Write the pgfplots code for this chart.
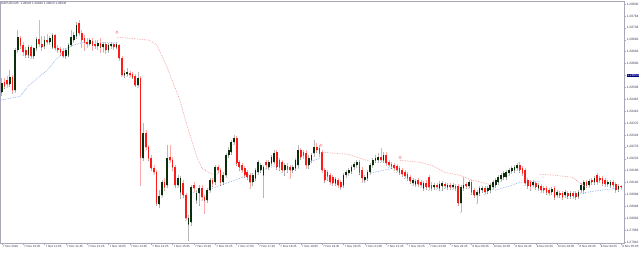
\documentclass[border=0pt]{standalone}
\usepackage{pgfplots}
\pgfplotsset{compat=1.18}
\usepackage{pgfplotstable}
\usepackage{fontspec}
\setmainfont{Liberation Sans}
\definecolor{upbody}{HTML}{0B2E0B}
\definecolor{dnbody}{HTML}{FF1A1A}
\definecolor{upwick}{HTML}{B8B8B8}
\definecolor{dnwick}{HTML}{FFA8A8}
\definecolor{bluema}{HTML}{8FB0F0}
\definecolor{pinkma}{HTML}{F49A9A}
\definecolor{axcol}{HTML}{A8A8B8}
\definecolor{lblcol}{HTML}{3A3A5A}
\definecolor{navyhl}{HTML}{000080}
\setlength{\fboxsep}{0.5pt}
\pgfplotsset{candle/.style={only marks, mark=*, mark size=0.01pt, mark options={draw=none, fill=none}}}

\pgfplotstableread{
x o h l c
0 1.28489 1.28543 1.28477 1.28524
3 1.28520 1.28574 1.28512 1.28547
5 1.28497 1.28659 1.28489 1.28652
6 1.28652 1.28729 1.28644 1.28702
10 1.28632 1.28671 1.28624 1.28663
12 1.28628 1.28663 1.28620 1.28659
13 1.28659 1.28702 1.28652 1.28694
16 1.28667 1.28706 1.28659 1.28690
18 1.28682 1.28706 1.28675 1.28698
19 1.28663 1.28717 1.28659 1.28710
24 1.28628 1.28659 1.28620 1.28652
25 1.28632 1.28679 1.28628 1.28671
26 1.28671 1.28729 1.28667 1.28702
27 1.28690 1.28721 1.28682 1.28710
28 1.28706 1.28760 1.28698 1.28748
33 1.28675 1.28698 1.28671 1.28690
36 1.28667 1.28690 1.28655 1.28679
38 1.28663 1.28682 1.28644 1.28675
40 1.28652 1.28679 1.28644 1.28671
41 1.28667 1.28682 1.28659 1.28675
43 1.28663 1.28682 1.28659 1.28675
46 1.28555 1.28574 1.28547 1.28562
47 1.28559 1.28582 1.28551 1.28566
51 1.28516 1.28566 1.28508 1.28543
53 1.28234 1.28369 1.28226 1.28330
59 1.28056 1.28110 1.28044 1.28086
60 1.28090 1.28148 1.28083 1.28141
62 1.28129 1.28284 1.28121 1.28234
66 1.28129 1.28168 1.28121 1.28156
67 1.28102 1.28164 1.28079 1.28156
70 1.27978 1.28013 1.27916 1.28001
71 1.27986 1.28129 1.27974 1.28121
73 1.28071 1.28110 1.28059 1.28098
74 1.28098 1.28129 1.28052 1.28117
77 1.28071 1.28117 1.28063 1.28110
78 1.28110 1.28156 1.28102 1.28148
80 1.28141 1.28206 1.28133 1.28199
83 1.28141 1.28179 1.28133 1.28168
84 1.28168 1.28253 1.28160 1.28245
85 1.28245 1.28276 1.28237 1.28265
86 1.28257 1.28303 1.28249 1.28295
87 1.28295 1.28323 1.28288 1.28311
94 1.28141 1.28176 1.28129 1.28168
95 1.28156 1.28195 1.28148 1.28187
96 1.28179 1.28226 1.28172 1.28218
97 1.28187 1.28214 1.28179 1.28206
98 1.28168 1.28206 1.28083 1.28199
100 1.28199 1.28226 1.28191 1.28218
101 1.28214 1.28245 1.28206 1.28237
102 1.28218 1.28265 1.28210 1.28253
106 1.28187 1.28214 1.28168 1.28206
109 1.28187 1.28206 1.28179 1.28199
110 1.28195 1.28234 1.28187 1.28226
111 1.28206 1.28284 1.28195 1.28265
115 1.28206 1.28245 1.28195 1.28234
116 1.28226 1.28253 1.28218 1.28245
117 1.28253 1.28303 1.28241 1.28276
125 1.28137 1.28160 1.28129 1.28152
128 1.28129 1.28176 1.28121 1.28168
129 1.28168 1.28187 1.28160 1.28179
130 1.28176 1.28195 1.28168 1.28187
131 1.28183 1.28206 1.28176 1.28199
132 1.28199 1.28218 1.28191 1.28210
133 1.28206 1.28226 1.28199 1.28218
136 1.28148 1.28168 1.28141 1.28160
137 1.28156 1.28187 1.28148 1.28179
138 1.28179 1.28214 1.28172 1.28206
139 1.28206 1.28234 1.28199 1.28226
140 1.28226 1.28245 1.28218 1.28234
141 1.28226 1.28253 1.28218 1.28237
143 1.28226 1.28257 1.28218 1.28245
154 1.28137 1.28156 1.28129 1.28148
155 1.28133 1.28152 1.28125 1.28145
158 1.28117 1.28145 1.28110 1.28137
162 1.28121 1.28137 1.28114 1.28129
164 1.28117 1.28145 1.28110 1.28133
165 1.28125 1.28145 1.28110 1.28137
167 1.28121 1.28137 1.28114 1.28129
169 1.28121 1.28137 1.28114 1.28129
172 1.28059 1.28129 1.28025 1.28121
173 1.28117 1.28160 1.28110 1.28129
175 1.28125 1.28148 1.28117 1.28141
178 1.28090 1.28110 1.28059 1.28102
179 1.28098 1.28125 1.28090 1.28117
180 1.28110 1.28125 1.28102 1.28117
182 1.28106 1.28125 1.28098 1.28117
183 1.28110 1.28137 1.28102 1.28129
184 1.28121 1.28148 1.28114 1.28141
185 1.28129 1.28156 1.28121 1.28148
186 1.28141 1.28168 1.28133 1.28160
187 1.28152 1.28176 1.28145 1.28168
188 1.28160 1.28183 1.28152 1.28176
189 1.28160 1.28187 1.28152 1.28179
190 1.28176 1.28195 1.28168 1.28187
191 1.28183 1.28203 1.28176 1.28195
192 1.28187 1.28206 1.28179 1.28199
193 1.28195 1.28214 1.28187 1.28206
199 1.28129 1.28148 1.28121 1.28141
201 1.28117 1.28137 1.28110 1.28129
206 1.28102 1.28121 1.28094 1.28114
208 1.28090 1.28110 1.28083 1.28102
211 1.28090 1.28110 1.28083 1.28102
213 1.28086 1.28106 1.28079 1.28098
216 1.28086 1.28110 1.28079 1.28102
217 1.28110 1.28137 1.28102 1.28129
218 1.28110 1.28148 1.28098 1.28141
220 1.28129 1.28152 1.28121 1.28145
222 1.28141 1.28164 1.28133 1.28156
227 1.28133 1.28148 1.28125 1.28141
228 1.28129 1.28148 1.28121 1.28141
231 1.28114 1.28133 1.28106 1.28125
}\uptab

\pgfplotstableread{
x o h l c
1 1.28528 1.28543 1.28504 1.28512
2 1.28535 1.28551 1.28508 1.28520
4 1.28547 1.28555 1.28485 1.28497
7 1.28698 1.28706 1.28659 1.28671
8 1.28671 1.28682 1.28632 1.28644
9 1.28652 1.28663 1.28624 1.28632
11 1.28663 1.28671 1.28620 1.28628
14 1.28694 1.28768 1.28667 1.28675
15 1.28675 1.28706 1.28652 1.28663
17 1.28690 1.28713 1.28675 1.28682
20 1.28710 1.28713 1.28652 1.28659
21 1.28659 1.28671 1.28644 1.28652
22 1.28655 1.28663 1.28632 1.28644
23 1.28648 1.28659 1.28624 1.28628
29 1.28756 1.28768 1.28710 1.28717
30 1.28717 1.28729 1.28663 1.28690
31 1.28698 1.28710 1.28652 1.28682
32 1.28682 1.28698 1.28663 1.28675
34 1.28686 1.28698 1.28652 1.28671
35 1.28675 1.28690 1.28659 1.28667
37 1.28679 1.28698 1.28644 1.28663
39 1.28675 1.28682 1.28640 1.28652
42 1.28675 1.28679 1.28655 1.28663
44 1.28671 1.28675 1.28613 1.28620
45 1.28620 1.28628 1.28551 1.28555
48 1.28562 1.28570 1.28547 1.28555
49 1.28559 1.28566 1.28543 1.28547
50 1.28551 1.28559 1.28512 1.28516
52 1.28543 1.28551 1.28129 1.28237
54 1.28330 1.28342 1.28265 1.28276
55 1.28276 1.28284 1.28226 1.28234
56 1.28234 1.28245 1.28187 1.28195
57 1.28195 1.28206 1.28172 1.28179
58 1.28179 1.28187 1.28052 1.28059
61 1.28141 1.28156 1.28110 1.28121
63 1.28237 1.28284 1.28218 1.28226
64 1.28226 1.28237 1.28187 1.28199
65 1.28199 1.28206 1.28121 1.28129
68 1.28137 1.28148 1.28083 1.28090
69 1.28090 1.28098 1.27994 1.28001
72 1.28129 1.28141 1.28102 1.28117
75 1.28117 1.28129 1.28071 1.28083
76 1.28083 1.28090 1.28021 1.28071
79 1.28148 1.28156 1.28125 1.28137
81 1.28199 1.28206 1.28176 1.28187
82 1.28187 1.28195 1.28129 1.28141
88 1.28311 1.28319 1.28206 1.28214
89 1.28218 1.28226 1.28187 1.28199
90 1.28206 1.28214 1.28179 1.28187
91 1.28195 1.28203 1.28160 1.28168
92 1.28179 1.28187 1.28152 1.28160
93 1.28168 1.28176 1.28117 1.28141
99 1.28218 1.28226 1.28195 1.28206
103 1.28257 1.28265 1.28191 1.28199
104 1.28226 1.28234 1.28187 1.28199
105 1.28218 1.28226 1.28179 1.28187
107 1.28203 1.28214 1.28179 1.28191
108 1.28199 1.28206 1.28156 1.28187
112 1.28265 1.28272 1.28230 1.28237
113 1.28257 1.28265 1.28234 1.28245
114 1.28253 1.28265 1.28195 1.28206
118 1.28276 1.28292 1.28257 1.28265
119 1.28272 1.28284 1.28241 1.28253
120 1.28257 1.28265 1.28179 1.28187
121 1.28187 1.28195 1.28141 1.28148
122 1.28179 1.28187 1.28148 1.28164
123 1.28168 1.28176 1.28133 1.28141
124 1.28160 1.28168 1.28129 1.28137
126 1.28148 1.28156 1.28121 1.28129
127 1.28141 1.28148 1.28114 1.28121
134 1.28218 1.28226 1.28172 1.28179
135 1.28187 1.28199 1.28141 1.28156
142 1.28237 1.28272 1.28218 1.28226
144 1.28245 1.28257 1.28206 1.28214
145 1.28218 1.28226 1.28199 1.28206
146 1.28210 1.28218 1.28195 1.28203
147 1.28206 1.28214 1.28187 1.28195
148 1.28203 1.28210 1.28179 1.28187
149 1.28195 1.28203 1.28172 1.28179
150 1.28187 1.28195 1.28164 1.28172
151 1.28179 1.28187 1.28156 1.28164
152 1.28172 1.28179 1.28148 1.28156
153 1.28160 1.28168 1.28137 1.28145
156 1.28148 1.28156 1.28125 1.28133
157 1.28141 1.28148 1.28121 1.28129
159 1.28137 1.28148 1.28114 1.28121
160 1.28160 1.28168 1.28110 1.28121
161 1.28129 1.28141 1.28110 1.28117
163 1.28129 1.28137 1.28114 1.28121
166 1.28133 1.28141 1.28117 1.28125
168 1.28129 1.28137 1.28114 1.28121
170 1.28125 1.28133 1.28110 1.28117
171 1.28125 1.28133 1.28052 1.28059
174 1.28133 1.28141 1.28117 1.28125
176 1.28141 1.28148 1.28094 1.28102
177 1.28110 1.28117 1.28083 1.28090
181 1.28117 1.28125 1.28094 1.28102
194 1.28206 1.28218 1.28179 1.28187
195 1.28195 1.28203 1.28168 1.28176
196 1.28187 1.28195 1.28129 1.28137
197 1.28148 1.28156 1.28117 1.28125
198 1.28141 1.28148 1.28110 1.28125
200 1.28137 1.28145 1.28114 1.28121
202 1.28125 1.28133 1.28102 1.28110
203 1.28117 1.28125 1.28102 1.28110
204 1.28117 1.28125 1.28094 1.28102
205 1.28110 1.28117 1.28090 1.28098
207 1.28117 1.28125 1.28075 1.28083
209 1.28098 1.28106 1.28083 1.28090
210 1.28098 1.28106 1.28075 1.28083
212 1.28098 1.28106 1.28079 1.28086
214 1.28098 1.28106 1.28079 1.28086
215 1.28098 1.28106 1.28075 1.28083
219 1.28141 1.28148 1.28121 1.28129
221 1.28148 1.28156 1.28133 1.28141
223 1.28168 1.28176 1.28133 1.28141
224 1.28156 1.28164 1.28141 1.28148
225 1.28156 1.28164 1.28129 1.28137
226 1.28148 1.28156 1.28125 1.28133
229 1.28141 1.28148 1.28117 1.28129
230 1.28133 1.28141 1.28102 1.28110
232 1.28125 1.28129 1.28114 1.28121
}\dntab

\begin{document}
\begin{tikzpicture}
\useasboundingbox (0,0) rectangle (640pt,252pt);
\begin{axis}[
  at={(0pt,9pt)}, anchor=south west,
  scale only axis, width=624pt, height=242pt,
  xmin=-0.64, xmax=233.07, ymin=1.27906, ymax=1.28842,
  axis line style={draw=axcol, line width=0.5pt},
  xtick={0,8,...,232},
  xticklabels={7 Nov 2019,7 Nov 10:25,7 Nov 11:05,7 Nov 11:45,7 Nov 12:25,7 Nov 13:05,7 Nov 13:45,7 Nov 14:25,7 Nov 15:05,7 Nov 15:45,7 Nov 16:25,7 Nov 17:05,7 Nov 17:45,7 Nov 18:25,7 Nov 19:05,7 Nov 19:45,7 Nov 20:25,7 Nov 21:05,7 Nov 21:45,7 Nov 22:25,7 Nov 23:05,7 Nov 23:45,8 Nov 00:25,8 Nov 01:05,8 Nov 01:45,8 Nov 02:25,8 Nov 03:05,8 Nov 03:45,8 Nov 04:25,8 Nov 05:05},
  ytick={1.27910,1.27956,1.28002,1.28048,1.28094,1.28140,1.28186,1.28232,1.28278,1.28324,1.28370,1.28416,1.28462,1.28508,1.28554,1.28600,1.28646,1.28692,1.28738,1.28784,1.28830},
  yticklabels={1.27910,1.27956,1.28002,1.28048,1.28094,1.28140,1.28186,1.28232,1.28278,1.28324,1.28370,1.28416,1.28462,1.28508,{\colorbox{navyhl}{\textcolor{white}{1.28554}}},1.28600,1.28646,1.28692,1.28738,1.28784,1.28830},
  xtick pos=bottom, ytick pos=right, yticklabel pos=right,
  tick align=outside, major tick length=2pt,
  tick style={draw=axcol, line width=0.4pt},
  xticklabel style={font=\fontsize{3}{3.5}\selectfont, text=lblcol, anchor=north west, inner sep=0.5pt, xshift=0.4pt},
  yticklabel style={font=\fontsize{3.2}{3.6}\selectfont, text=lblcol, anchor=west, inner sep=0.6pt},
  error bars/error mark=none,
]
% dotted indicator lines (visible pieces)
\addplot[bluema, densely dotted, line width=0.7pt] coordinates {(-0.64,1.28458) (3.11,1.28466) (6.85,1.28473) (10.60,1.28520) (14.34,1.28551) (16.97,1.28574) (21.09,1.28624) (24.46,1.28659) (26.70,1.28671) (30.45,1.28682) (36.82,1.28682) (43.18,1.28682)};
\addplot[bluema, densely dotted, line width=0.7pt] coordinates {(78.76,1.28117) (89.25,1.28156) (94.12,1.28176) (103.1,1.28206)};
\addplot[bluema, densely dotted, line width=0.7pt] coordinates {(113.6,1.28214) (119.2,1.28234)};
\addplot[bluema, densely dotted, line width=0.7pt] coordinates {(137.9,1.28176) (146.6,1.28195)};
\addplot[bluema, densely dotted, line width=0.7pt] coordinates {(184.8,1.28110) (191.1,1.28129) (194.1,1.28141) (201.6,1.28145)};
\addplot[bluema, densely dotted, line width=0.7pt] coordinates {(216.6,1.28098) (224.1,1.28110) (230.4,1.28117)};

% wicks
\addplot[candle, error bars/.cd, y dir=plus, y explicit, error bar style={draw=upwick, line width=0.7pt}]
  table[x=x, y=l, y error plus expr=\thisrow{h}-\thisrow{l}] {\uptab};
\addplot[candle, error bars/.cd, y dir=plus, y explicit, error bar style={draw=dnwick, line width=0.7pt}]
  table[x=x, y=l, y error plus expr=\thisrow{h}-\thisrow{l}] {\dntab};
% bodies
\addplot[candle, error bars/.cd, y dir=plus, y explicit, error bar style={draw=upbody, line width=1.7pt}]
  table[x=x, y=o, y error plus expr=\thisrow{c}-\thisrow{o}] {\uptab};
\addplot[candle, error bars/.cd, y dir=plus, y explicit, error bar style={draw=dnbody, line width=1.7pt}]
  table[x=x, y=c, y error plus expr=\thisrow{o}-\thisrow{c}] {\dntab};

% pink dotted line pieces
\addplot[pinkma, densely dotted, line width=0.7pt] coordinates {(43.18,1.28702) (48.05,1.28698) (55.54,1.28690) (58.16,1.28671) (61.91,1.28586) (66.78,1.28458) (69.40,1.28361) (73.15,1.28237) (75.02,1.28195) (78.01,1.28176) (79.14,1.28172)};
\addplot[pinkma, densely dotted, line width=0.7pt] coordinates {(119.96,1.28257) (129.7,1.28249) (137.9,1.28222)};
\addplot[pinkma, densely dotted, line width=0.7pt] coordinates {(149.2,1.28226) (156.7,1.28218) (161.2,1.28206) (166.0,1.28179) (171.6,1.28168) (175.4,1.28152) (184.0,1.28129)};
\addplot[pinkma, densely dotted, line width=0.7pt] coordinates {(201.6,1.28172) (207.2,1.28168) (213.9,1.28160) (216.6,1.28137) (218.5,1.28125)};
% arrow objects
\addplot[only marks, mark=o, mark size=1.3pt, pinkma, mark options={line width=0.45pt}] coordinates {(43.2,1.28721) (119.6,1.28284) (149.2,1.28237)};

\node[anchor=north west, font=\fontsize{3}{3.5}\selectfont, text=lblcol, inner sep=1pt] at (rel axis cs:0,1) {GBPUSD,M5\ \ 1.28026 1.28040 1.28023 1.28040};
\end{axis}
\end{tikzpicture}
\end{document}
